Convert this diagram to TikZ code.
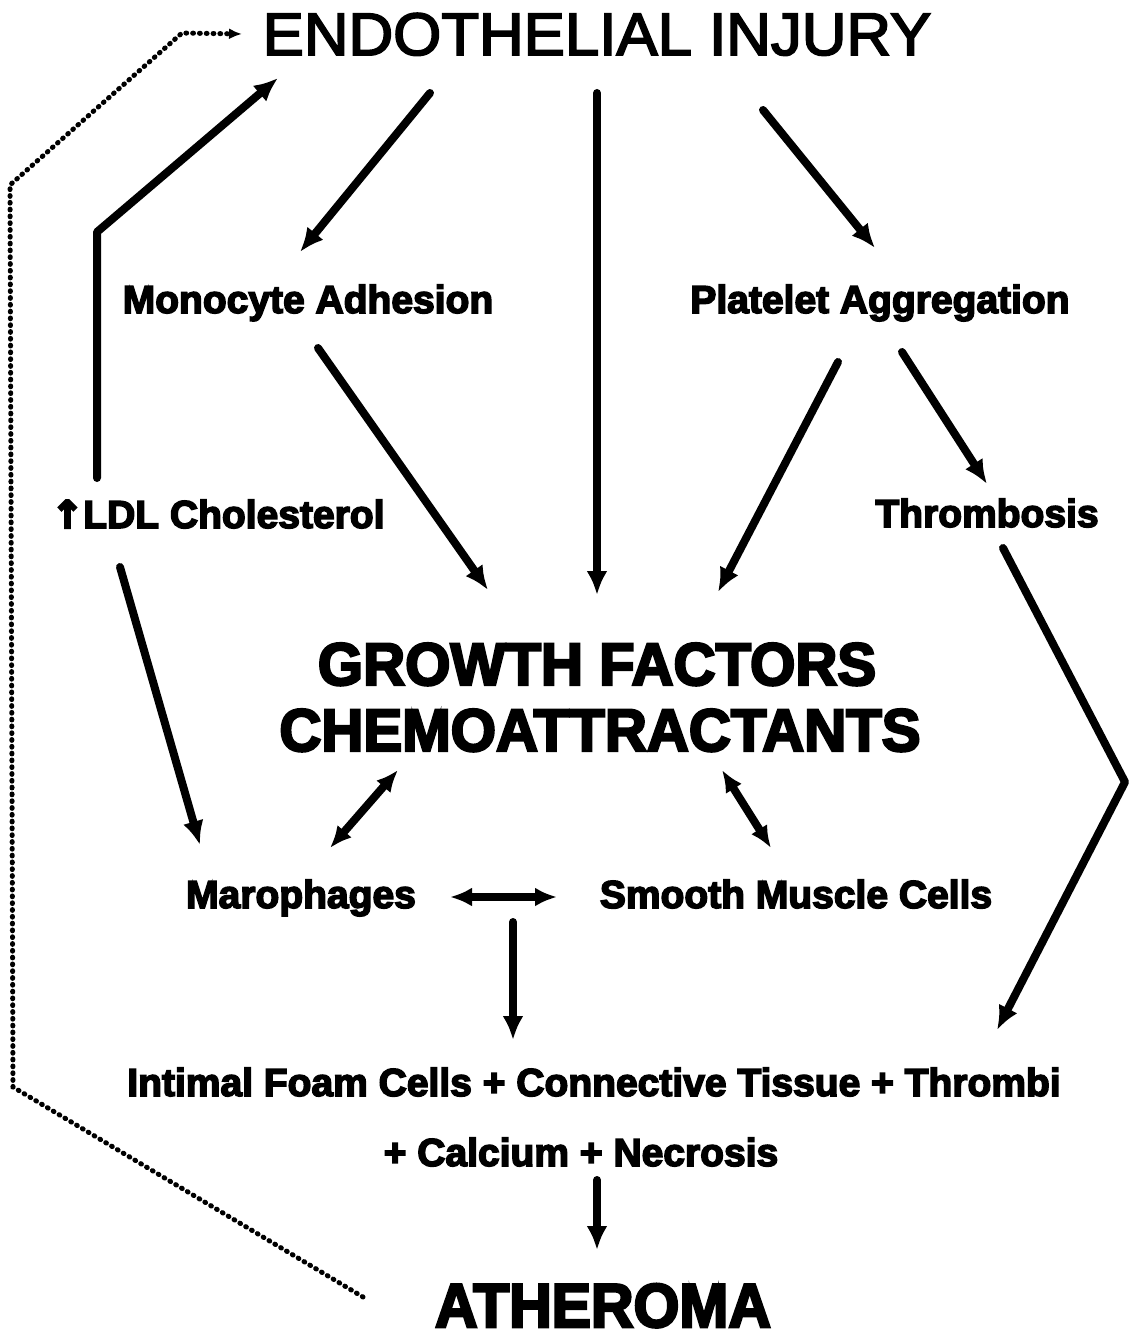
\documentclass[tikz,border=0pt]{standalone}
\usepackage{fontspec}
\setmainfont{Liberation Sans}
\newfontfamily\eifont{Liberation Sans}[FakeStretch=1.03,FakeBold=3]
\newfontfamily\labfont{Liberation Sans Bold}[FakeBold=4]
\newfontfamily\bigfont{Liberation Sans Bold}[FakeStretch=0.97,FakeBold=4]
\newfontfamily\athfont{Liberation Sans Bold}[FakeStretch=0.95,FakeBold=4]
\newfontfamily\dvfont{DejaVu Sans Bold}[FakeBold=6]
\usetikzlibrary{arrows.meta}
\begin{document}
\begin{tikzpicture}[x=1pt,y=-1pt,
  lab/.style={anchor=base,inner sep=0pt,font=\labfont\fontsize{39}{45}\selectfont},
  big/.style={anchor=base,inner sep=0pt,font=\bigfont\fontsize{60}{70}\selectfont},
  arr/.style={line width=8pt,line cap=round,line join=round,-{Latex[length=24pt,width=21pt]}},
  darr/.style={line width=8pt,{Latex[length=22pt,width=19pt]}-{Latex[length=22pt,width=19pt]}},
  dots/.style={line width=5pt,line cap=round,dash pattern=on 0.8pt off 6pt,-{Latex[length=13pt,width=11pt]}}]
\useasboundingbox (0,0) rectangle (1130,1340);
\fill[white] (0,0) rectangle (1130,1340);
% nodes
\node[anchor=base,inner sep=0pt,font=\eifont\fontsize{60}{70}\selectfont] (ei) at (597,55) {ENDOTHELIAL INJURY};
\node[lab] (ma) at (308,313) {Monocyte Adhesion};
\node[lab] (pa) at (880,313) {Platelet Aggregation};
\node[lab] (ldl) at (218,528) {{\dvfont\fontsize{38}{40}\selectfont ↑}LDL Cholesterol};
\node[lab] (th) at (987,527) {Thrombosis};
\node[big] (gf) at (597,685) {GROWTH FACTORS};
\node[big] (ch) at (600,751) {CHEMOATTRACTANTS};
\node[lab] (mac) at (301,908) {Marophages};
\node[lab] (smc) at (796,908) {Smooth Muscle Cells};
\node[lab] (int) at (594,1096) {Intimal Foam Cells + Connective Tissue + Thrombi};
\node[lab] (cal) at (581,1166) {+ Calcium + Necrosis};
\node[anchor=base,inner sep=0pt,font=\athfont\fontsize{62}{70}\selectfont] (ath) at (603,1327) {ATHEROMA};
% connector end points
\coordinate (ldl-up) at (97,478);
\coordinate (ldl-bend) at (97,232);
\coordinate (ei-in1) at (278,78);
\coordinate (ei-o1) at (430,93);
\coordinate (ma-in) at (300,252);
\coordinate (ei-o2) at (597,93);
\coordinate (gf-in2) at (597,595);
\coordinate (ei-o3) at (763,110);
\coordinate (pa-in) at (875,248);
\coordinate (ma-out) at (318,348);
\coordinate (gf-in1) at (488,590);
\coordinate (pa-o1) at (838,362);
\coordinate (gf-in3) at (718,592);
\coordinate (pa-o2) at (902,352);
\coordinate (th-in) at (987,484);
\coordinate (ldl-dn) at (120,567);
\coordinate (mac-in) at (200,845);
\coordinate (th-out) at (1003,548);
\coordinate (th-bend) at (1125,782);
\coordinate (int-in) at (997,1030);
\coordinate (ch-l) at (398,770);
\coordinate (mac-up) at (330,848);
\coordinate (ch-r) at (722,770);
\coordinate (smc-up) at (771,848);
\coordinate (mac-r) at (450,897);
\coordinate (smc-l) at (557,897);
\coordinate (ms-dn) at (513,922);
\coordinate (int-up) at (513,1040);
\coordinate (cal-dn) at (597,1180);
\coordinate (ath-up) at (597,1250);
\coordinate (ath-l) at (363,1297);
\coordinate (d1) at (13,1087);
\coordinate (d2) at (10,185);
\coordinate (d3) at (182,33);
\coordinate (ei-l) at (242,34);
% connectors
\draw[arr] (ldl-up) -- (ldl-bend) -- (ei-in1);
\draw[arr] (ei-o1) -- (ma-in);
\draw[arr] (ei-o2) -- (gf-in2);
\draw[arr] (ei-o3) -- (pa-in);
\draw[arr] (ma-out) -- (gf-in1);
\draw[arr] (pa-o1) -- (gf-in3);
\draw[arr] (pa-o2) -- (th-in);
\draw[arr] (ldl-dn) -- (mac-in);
\draw[arr] (th-out) -- (th-bend) -- (int-in);
\draw[darr] (ch-l) -- (mac-up);
\draw[darr] (ch-r) -- (smc-up);
\draw[darr] (mac-r) -- (smc-l);
\draw[arr] (ms-dn) -- (int-up);
\draw[arr] (cal-dn) -- (ath-up);
\draw[dots] (ath-l) -- (d1) -- (d2) -- (d3) -- (ei-l);
\end{tikzpicture}
\end{document}
